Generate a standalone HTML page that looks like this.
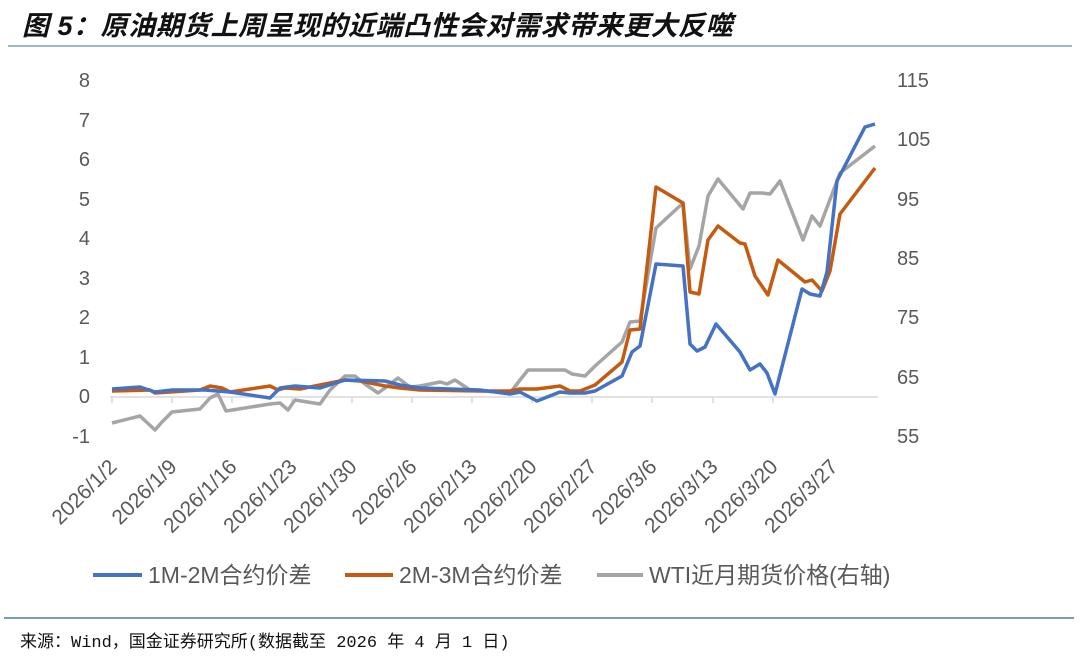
<!DOCTYPE html>
<html><head><meta charset="utf-8"><style>
body{margin:0;background:#fff;width:1080px;height:662px;overflow:hidden}
svg text{font-family:"Liberation Sans","Noto Sans CJK SC",sans-serif}
</style></head><body>
<svg width="1080" height="662" viewBox="0 0 1080 662" xmlns="http://www.w3.org/2000/svg">
<text x="22" y="35" font-size="27" font-weight="bold" font-style="italic" fill="#111" letter-spacing="0.5" style="font-family:'Liberation Sans','Noto Sans CJK SC',sans-serif">图 5：原油期货上周呈现的近端凸性会对需求带来更大反噬</text>
<line x1="8" y1="46" x2="1072" y2="46" stroke="#9fb8c8" stroke-width="2"/>
<g font-size="20" fill="#595959" text-anchor="end">
<text x="90" y="87">8</text><text x="90" y="127">7</text><text x="90" y="166">6</text><text x="90" y="206">5</text><text x="90" y="245">4</text><text x="90" y="285">3</text><text x="90" y="324">2</text><text x="90" y="364">1</text><text x="90" y="403">0</text><text x="90" y="443">-1</text>
</g>
<g font-size="20" fill="#595959">
<text x="897" y="87">115</text><text x="897" y="146">105</text><text x="897" y="206">95</text><text x="897" y="265">85</text><text x="897" y="324">75</text><text x="897" y="384">65</text><text x="897" y="443">55</text>
</g>
<line x1="110" y1="397" x2="878" y2="397" stroke="#d9d9d9" stroke-width="1.5"/>
<g stroke="#d9d9d9" stroke-width="1.5">
<line x1="112" y1="397" x2="112" y2="403"/><line x1="172" y1="397" x2="172" y2="403"/><line x1="232" y1="397" x2="232" y2="403"/><line x1="292" y1="397" x2="292" y2="403"/><line x1="352" y1="397" x2="352" y2="403"/><line x1="412" y1="397" x2="412" y2="403"/><line x1="472" y1="397" x2="472" y2="403"/><line x1="532" y1="397" x2="532" y2="403"/><line x1="592" y1="397" x2="592" y2="403"/><line x1="652" y1="397" x2="652" y2="403"/><line x1="713" y1="397" x2="713" y2="403"/><line x1="773" y1="397" x2="773" y2="403"/>
</g>
<g font-size="21" fill="#595959" text-anchor="end">
<text transform="translate(118,468) rotate(-45)">2026/1/2</text>
<text transform="translate(178,468) rotate(-45)">2026/1/9</text>
<text transform="translate(238,468) rotate(-45)">2026/1/16</text>
<text transform="translate(298,468) rotate(-45)">2026/1/23</text>
<text transform="translate(358,468) rotate(-45)">2026/1/30</text>
<text transform="translate(418,468) rotate(-45)">2026/2/6</text>
<text transform="translate(478,468) rotate(-45)">2026/2/13</text>
<text transform="translate(538,468) rotate(-45)">2026/2/20</text>
<text transform="translate(598,468) rotate(-45)">2026/2/27</text>
<text transform="translate(658,468) rotate(-45)">2026/3/6</text>
<text transform="translate(719,468) rotate(-45)">2026/3/13</text>
<text transform="translate(779,468) rotate(-45)">2026/3/20</text>
<text transform="translate(839,468) rotate(-45)">2026/3/27</text>
</g>
<g fill="none" stroke-width="3.5" stroke-linejoin="round">
<polyline stroke="#a5a5a5" points="112,423 140,416 155,430 162,422 172,412 200,409 210,398 218,394 226,411 270,404 280,403 288,410 295,400 320,404 330,390 345,376 355,376 365,384 378,393 385,388 398,378 410,387 420,386 440,382 447,384 455,380 470,390 510,393 520,380 528,370 565,370 572,374 585,376 595,366 622,342 630,322 640,321 656,228 683,203 690,269 699,246 708,196 718,179 743,209 750,193 762,193 770,194 780,181 803,240 812,216 820,226 840,173 875,146"/>
<polyline stroke="#c55a11" points="112,391 150,390 155,393 200,390 210,386 222,388 230,392 270,386 278,390 285,388 300,389 325,384 345,380 360,381 385,386 400,388 420,390 480,391 510,391 520,389 537,389 560,386 570,391 580,391 595,385 622,362 630,330 640,329 656,187 683,203 690,292 699,294 708,240 718,226 740,243 745,244 755,276 768,295 778,260 805,282 812,280 822,291 830,271 840,214 875,168"/>
<polyline stroke="#4472c4" points="112,389 140,387 155,392 172,390 205,390 230,392 270,398 280,388 295,386 320,388 345,380 385,381 400,385 420,388 480,390 510,394 520,392 537,401 560,392 570,393 585,393 595,391 622,376 632,352 640,346 656,264 683,266 690,344 697,351 705,347 716,324 740,352 750,370 760,364 767,373 775,394 802,289 810,294 820,296 827,272 837,181 865,127 875,124"/>
</g>
<g font-size="23" fill="#595959">
<line x1="93" y1="575" x2="142" y2="575" stroke="#4472c4" stroke-width="4"/>
<text x="148" y="583">1M-2M合约价差</text>
<line x1="345" y1="575" x2="393" y2="575" stroke="#c55a11" stroke-width="4"/>
<text x="399" y="583">2M-3M合约价差</text>
<line x1="597" y1="575" x2="643" y2="575" stroke="#a5a5a5" stroke-width="4"/>
<text x="649" y="583">WTI近月期货价格(右轴)</text>
</g>
<line x1="4" y1="618" x2="1074" y2="618" stroke="#4a7fa0" stroke-width="1.5"/>
<text x="20" y="647" font-size="17" fill="#111" style="font-family:'Liberation Mono','Noto Sans CJK SC',monospace">来源：Wind，国金证券研究所(数据截至 2026 年 4 月 1 日)</text>
</svg>
</body></html>
